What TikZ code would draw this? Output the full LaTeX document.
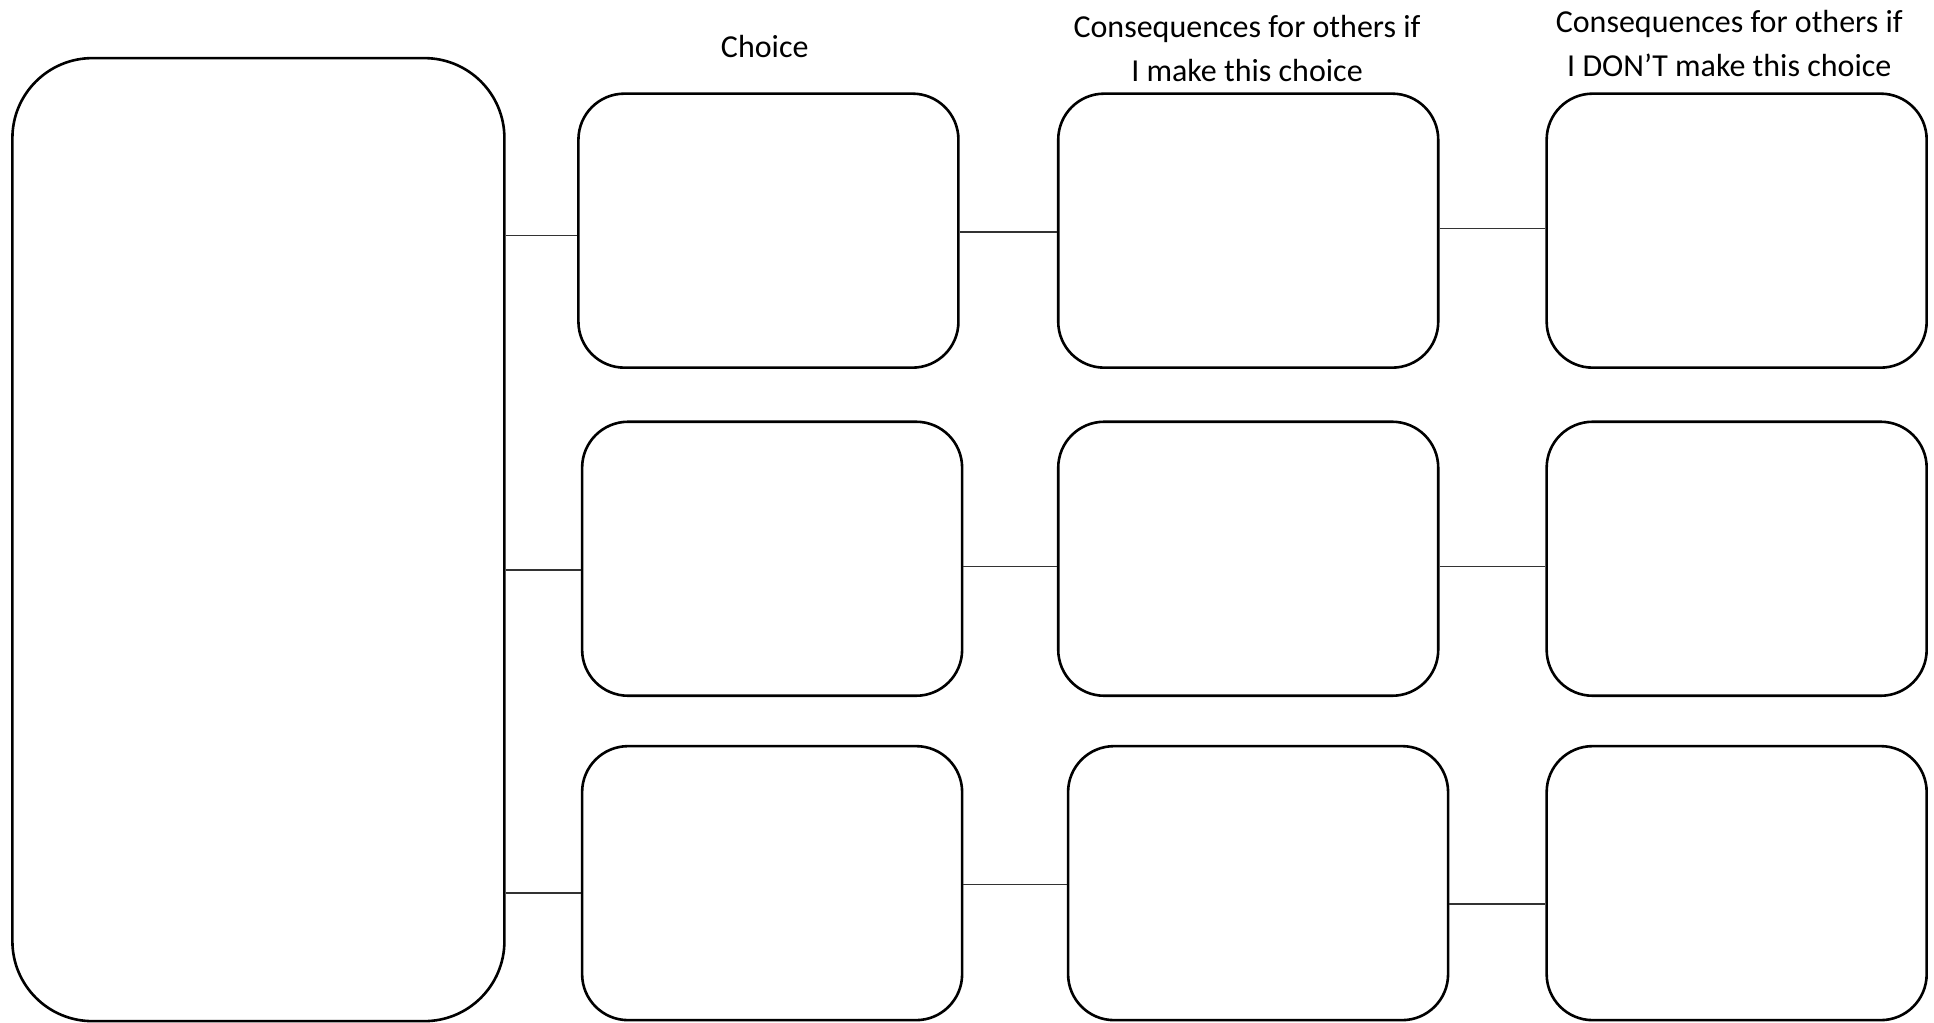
\documentclass[tikz,border=0pt]{standalone}
\usepackage{fontspec}
\setmainfont{Carlito}
\begin{document}
\begin{tikzpicture}[x=1.2334pt,y=-1.2334pt,
  bigbox/.style={draw=black,line width=2.6pt,rounded corners=80pt,minimum width=492pt,minimum height=963pt,inner sep=0pt},
  cellbox/.style={draw=black,line width=2.6pt,rounded corners=46pt,minimum width=380pt,minimum height=274pt,inner sep=0pt},
  link/.style={draw=black!80,line width=1.3pt},
  head/.style={font=\fontsize{32}{44}\selectfont,align=center,inner sep=0pt}]
\useasboundingbox (0,0) rectangle (1568,829);
\node[bigbox] (big) at (209.5,437.5) {};
\node[cellbox] (a1) at (623,187) {};
\node[cellbox] (b1) at (1012,187) {};
\node[cellbox] (c1) at (1408,187) {};
\node[cellbox] (a2) at (626,453) {};
\node[cellbox] (b2) at (1012,453) {};
\node[cellbox] (c2) at (1408,453) {};
\node[cellbox] (a3) at (626,716) {};
\node[cellbox] (b3) at (1020,716) {};
\node[cellbox] (c3) at (1408,716) {};
\node[head] (h1) at (620,38) {Choice};
\node[head] (h2) at (1011,39) {Consequences for others if\\I make this choice};
\node[head] (h3) at (1402,35) {Consequences for others if\\I DON’T make this choice};
\draw[link] (big.east |- 0,191) -- (a1.west |- 0,191);
\draw[link] (a1.east |- 0,188) -- (b1.west |- 0,188);
\draw[link] (b1.east |- 0,185) -- (c1.west |- 0,185);
\draw[link] (big.east |- 0,462) -- (a2.west |- 0,462);
\draw[link] (a2.east |- 0,459) -- (b2.west |- 0,459);
\draw[link] (b2.east |- 0,459) -- (c2.west |- 0,459);
\draw[link] (big.east |- 0,724) -- (a3.west |- 0,724);
\draw[link] (a3.east |- 0,717) -- (b3.west |- 0,717);
\draw[link] (b3.east |- 0,733) -- (c3.west |- 0,733);
\end{tikzpicture}
\end{document}
